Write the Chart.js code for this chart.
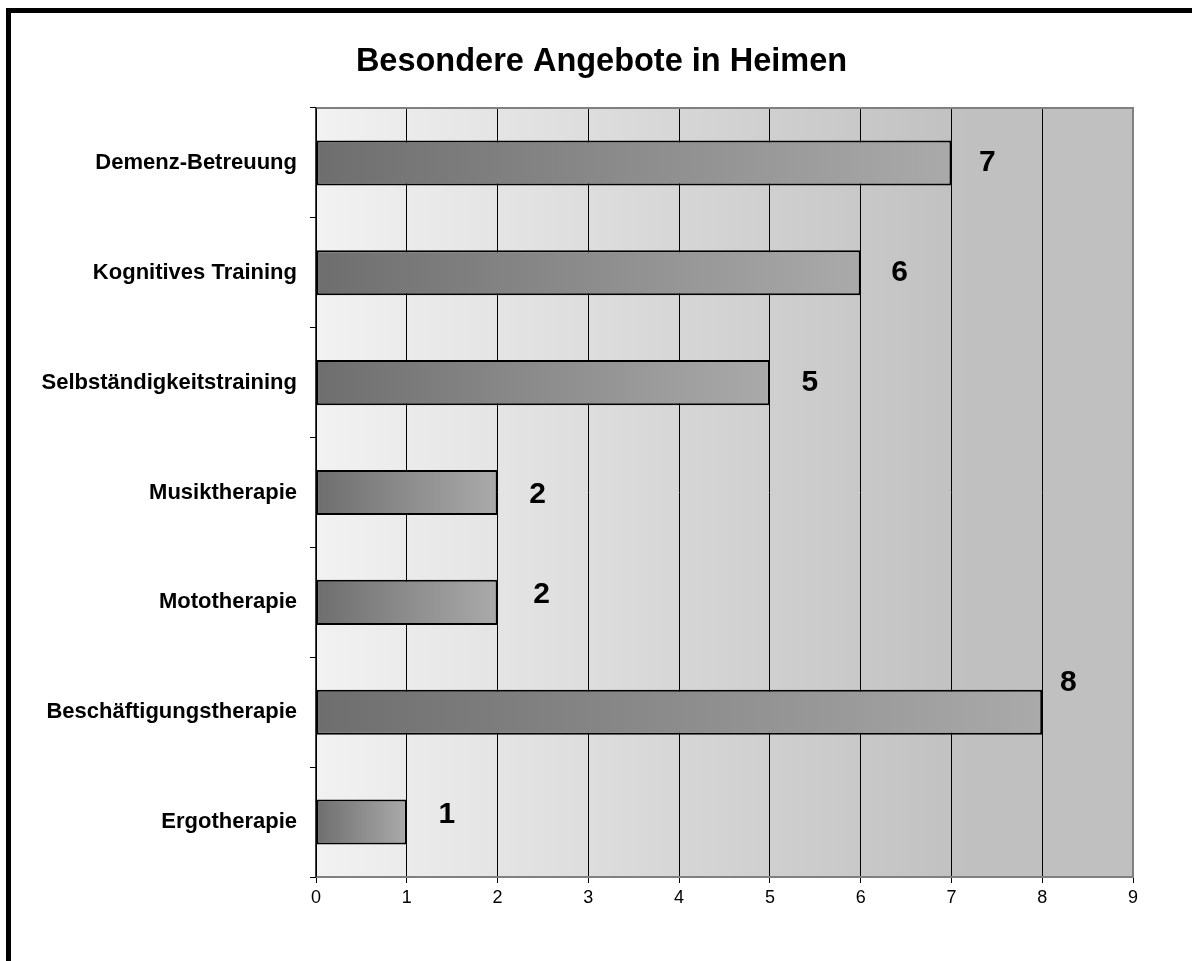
<!DOCTYPE html>
<html>
<head>
<meta charset="utf-8">
<script src="https://cdn.jsdelivr.net/npm/chart.js@4/dist/chart.umd.min.js"></script>
<style>
  html, body { margin: 0; padding: 0; background: #fff; }
  #frame {
    position: absolute; left: 6px; top: 8px;
    width: 1186px; height: 953px;
    border-top: 5px solid #000; border-left: 5px solid #000;
    box-sizing: border-box;
  }
  #wrap { position: absolute; left: 0; top: 0; width: 1181px; height: 948px; }
</style>
</head>
<body>
<div id="frame"><div id="wrap"><canvas id="chart"></canvas></div></div>
<script>
const categories = [
  "Demenz-Betreuung",
  "Kognitives Training",
  "Selbständigkeitstraining",
  "Musiktherapie",
  "Mototherapie",
  "Beschäftigungstherapie",
  "Ergotherapie",
];
const values = [7, 6, 5, 2, 2, 8, 1];
const xTicks = [0, 1, 2, 3, 4, 5, 6, 7, 8, 9];

// label nudges [dx, dy] from bar end, like the hand-moved labels in the original
const labelNudge = [[36, 0], [39, 0], [40, 0], [40, 2], [44, -8], [26, -29], [40, -7]];

const sans = "'Liberation Sans', Arial, sans-serif";

const plotBackground = {
  id: "plotBackground",
  beforeDraw(chart) {
    const { ctx, chartArea: a } = chart;
    const g = ctx.createLinearGradient(a.left, 0, a.right, 0);
    g.addColorStop(0, "#f2f2f2");
    g.addColorStop(0.8, "#c0c0c0");
    g.addColorStop(1, "#c0c0c0");
    ctx.save();
    ctx.fillStyle = g;
    ctx.fillRect(a.left, a.top, a.right - a.left, a.bottom - a.top);
    ctx.restore();
  },
  afterDatasetsDraw(chart) {
    const { ctx, chartArea: a } = chart;
    ctx.save();
    ctx.strokeStyle = "#808080";
    ctx.lineWidth = 2;
    ctx.beginPath();
    ctx.moveTo(a.left, a.top);
    ctx.lineTo(a.right, a.top);
    ctx.lineTo(a.right, a.bottom);
    ctx.lineTo(a.left, a.bottom);
    ctx.stroke();
    ctx.strokeStyle = "#000";
    ctx.lineWidth = 1.5;
    ctx.beginPath();
    ctx.moveTo(a.left, a.top);
    ctx.lineTo(a.left, a.bottom);
    ctx.stroke();
    // value labels
    const meta = chart.getDatasetMeta(0);
    ctx.fillStyle = "#000";
    ctx.font = "bold 30px " + sans;
    ctx.textAlign = "center";
    ctx.textBaseline = "middle";
    meta.data.forEach((bar, i) => {
      const n = labelNudge[i] || [36, 0];
      ctx.fillText(String(values[i]), bar.x + n[0], bar.y + n[1]);
    });
    ctx.restore();
  },
};

const ctx = document.querySelector("#chart").getContext("2d");

new Chart(ctx, {
  type: "bar",
  data: {
    labels: categories,
    datasets: [
      {
        data: values,
        yAxisID: "y",
        backgroundColor: (c) => {
          const x = c.chart.scales.x;
          if (!x || c.dataIndex === undefined) return "#8a8a8a";
          const x0 = x.getPixelForValue(0);
          const x1 = x.getPixelForValue(values[c.dataIndex]);
          if (!isFinite(x0) || !isFinite(x1)) return "#8a8a8a";
          const g = c.chart.ctx.createLinearGradient(x0, 0, x1, 0);
          g.addColorStop(0, "#6e6e6e");
          g.addColorStop(1, "#aaaaaa");
          return g;
        },
        borderColor: "#000",
        borderWidth: 2,
        borderSkipped: false,
        barPercentage: 0.41,
        categoryPercentage: 1,
      },
    ],
  },
  options: {
    indexAxis: "y",
    responsive: true,
    maintainAspectRatio: false,
    animation: false,
    layout: { padding: 0 },
    plugins: {
      legend: { display: false },
      tooltip: { enabled: false },
      title: {
        display: true,
        text: "Besondere Angebote in Heimen",
        color: "#000",
        font: { family: sans, size: 32.5, weight: "bold" },
        padding: { top: 30, bottom: 26 },
      },
    },
    scales: {
      x: {
        min: 0,
        max: 9,
        afterBuildTicks: (s) => { s.ticks = xTicks.map((v) => ({ value: v })); },
        afterFit: (s) => { s.height = 84; },
        grid: { color: "#000", lineWidth: 1, tickLength: 6, drawTicks: true },
        border: { display: false },
        ticks: { color: "#000", padding: 4, font: { family: sans, size: 18 } },
      },
      y: {
        afterFit: (s) => { s.width = 305; },
        grid: { offset: true, drawOnChartArea: false, tickLength: 6, color: "#000" },
        border: { display: false },
        ticks: { color: "#000", padding: 13, font: { family: sans, size: 22, weight: "bold" } },
      },
      // empty spacer on the right, keeps the title centred on the whole picture
      spacer: {
        type: "linear",
        axis: "y",
        position: "right",
        afterFit: (s) => { s.width = 59; },
        grid: { display: false },
        border: { display: false },
        ticks: { display: false },
      },
    },
  },
  plugins: [plotBackground],
});
</script>
</body>
</html>
